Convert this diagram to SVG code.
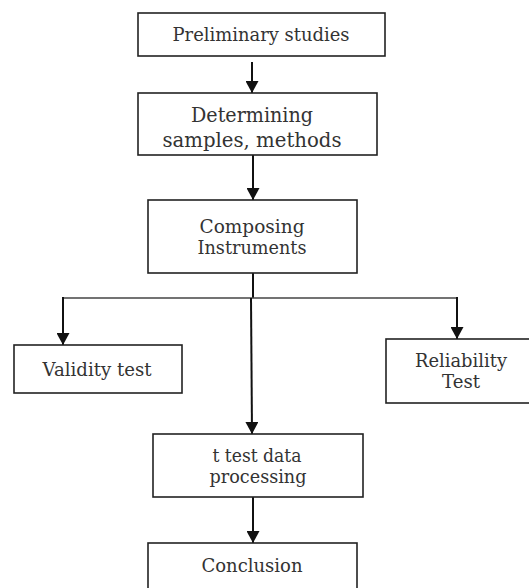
<svg xmlns="http://www.w3.org/2000/svg" width="529" height="588" viewBox="0 0 529 588">
<style>
.box{fill:#fff;stroke:#222;stroke-width:1.6}
.t{font-family:"DejaVu Serif","Liberation Serif",serif;font-size:19px;fill:#333;text-anchor:middle}
.big{font-size:21px}
.c{stroke:#111;stroke-width:2;fill:none}
.h{stroke:#444;stroke-width:1.5;fill:none}
</style>
<defs>
<marker id="ah" markerUnits="userSpaceOnUse" markerWidth="13" markerHeight="13" refX="12" refY="6.5" orient="auto">
<path d="M0,0 L12,6.5 L0,13 z" fill="#111"/>
</marker>
</defs>
<rect width="529" height="588" fill="#fff"/>
<g id="connectors">
<line class="c" x1="252" y1="62" x2="252" y2="93" marker-end="url(#ah)"/>
<line class="c" x1="253" y1="155" x2="253" y2="200" marker-end="url(#ah)"/>
<line class="c" x1="253" y1="273" x2="253" y2="298"/>
<line class="h" x1="62" y1="298" x2="458" y2="298"/>
<line class="c" x1="63" y1="297" x2="63" y2="345" marker-end="url(#ah)"/>
<line class="c" x1="457" y1="297" x2="457" y2="339" marker-end="url(#ah)"/>
<line class="c" x1="251" y1="298" x2="252" y2="434" marker-end="url(#ah)"/>
<line class="c" x1="253" y1="497" x2="253" y2="543" marker-end="url(#ah)"/>
</g>
<g id="preliminary">
<rect class="box" x="138" y="13" width="247" height="43"/>
<text class="t" x="261" y="41" textLength="177" lengthAdjust="spacingAndGlyphs">Preliminary studies</text>
</g>
<g id="determining">
<rect class="box" x="138" y="93" width="239" height="62"/>
<text class="t big" x="252" y="122" textLength="122" lengthAdjust="spacingAndGlyphs">Determining</text>
<text class="t big" x="252" y="147" textLength="179" lengthAdjust="spacingAndGlyphs">samples, methods</text>
</g>
<g id="composing">
<rect class="box" x="148" y="200" width="209" height="73"/>
<text class="t" x="252" y="233" textLength="105" lengthAdjust="spacingAndGlyphs">Composing</text>
<text class="t" x="252" y="254" textLength="109" lengthAdjust="spacingAndGlyphs">Instruments</text>
</g>
<g id="validity">
<rect class="box" x="14" y="345" width="168" height="48"/>
<text class="t" x="97" y="376" textLength="109" lengthAdjust="spacingAndGlyphs">Validity test</text>
</g>
<g id="reliability">
<rect class="box" x="386" y="339" width="160" height="64"/>
<text class="t" x="461" y="367" textLength="92" lengthAdjust="spacingAndGlyphs">Reliability</text>
<text class="t" x="461" y="388" textLength="38" lengthAdjust="spacingAndGlyphs">Test</text>
</g>
<g id="ttest">
<rect class="box" x="153" y="434" width="210" height="63"/>
<text class="t" x="257" y="462" textLength="89" lengthAdjust="spacingAndGlyphs">t test data</text>
<text class="t" x="258" y="483" textLength="97" lengthAdjust="spacingAndGlyphs">processing</text>
</g>
<g id="conclusion">
<rect class="box" x="148" y="543" width="209" height="60"/>
<text class="t" x="252" y="572" textLength="101" lengthAdjust="spacingAndGlyphs">Conclusion</text>
</g>
</svg>
